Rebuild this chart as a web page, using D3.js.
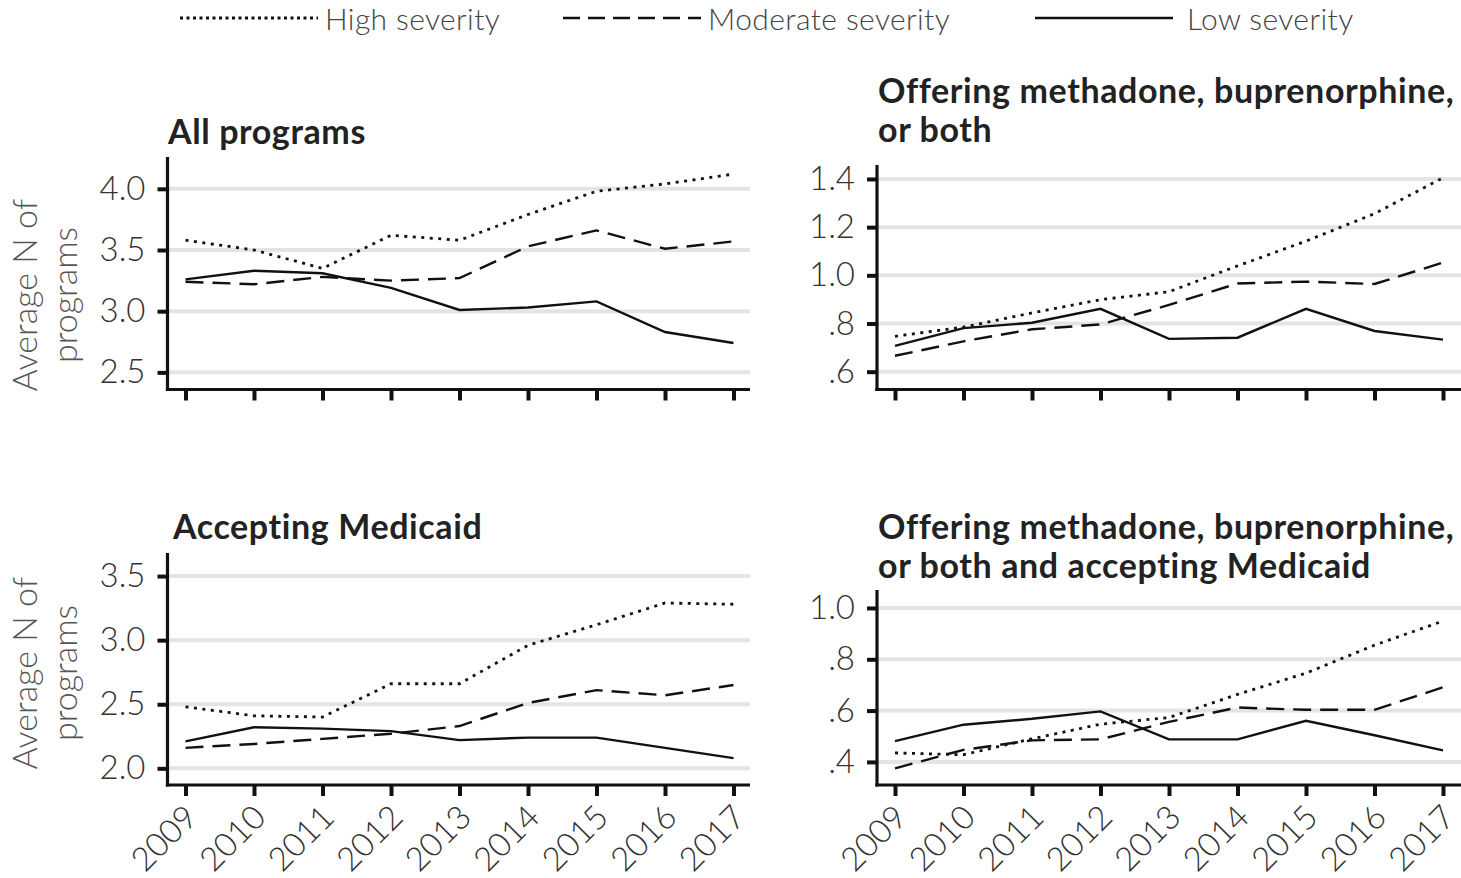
<!DOCTYPE html>
<html><head><meta charset="utf-8">
<script src="https://cdn.jsdelivr.net/npm/d3@7"></script>
<style>
html,body{margin:0;padding:0;background:#fff;}
svg{display:block;font-family:Lato,"Open Sans",sans-serif;}
</style></head>
<body>
<svg id="chart" width="1461" height="878"></svg>
<script>
const years = [2009,2010,2011,2012,2013,2014,2015,2016,2017];
const seriesNames = ["High severity","Moderate severity","Low severity"];

const allHigh = [3.58,3.50,3.35,3.62,3.58,3.79,3.98,4.04,4.12];
const allMod  = [3.24,3.22,3.28,3.25,3.27,3.53,3.66,3.51,3.57];
const allLow  = [3.26,3.33,3.31,3.19,3.01,3.03,3.08,2.83,2.74];

const mobHigh = [0.747,0.785,0.844,0.899,0.932,1.039,1.142,1.256,1.405];
const mobMod  = [0.666,0.726,0.776,0.796,0.877,0.966,0.974,0.964,1.053];
const mobLow  = [0.707,0.781,0.803,0.861,0.736,0.741,0.861,0.769,0.733];

const medHigh = [2.48,2.41,2.40,2.66,2.66,2.96,3.12,3.29,3.28];
const medMod  = [2.16,2.19,2.23,2.27,2.33,2.51,2.61,2.57,2.65];
const medLow  = [2.21,2.32,2.31,2.29,2.22,2.24,2.24,2.16,2.08];

const bothHigh = [0.435,0.428,0.490,0.547,0.573,0.663,0.746,0.855,0.949];
const bothMod  = [0.375,0.447,0.484,0.488,0.556,0.612,0.603,0.603,0.691];
const bothLow  = [0.481,0.545,0.568,0.597,0.488,0.488,0.560,0.504,0.445];

const titles = [
  ["All programs"],
  ["Offering methadone, buprenorphine,","or both"],
  ["Accepting Medicaid"],
  ["Offering methadone, buprenorphine,","or both and accepting Medicaid"]
];
const yTicksAll  = [2.5,3.0,3.5,4.0];
const yTicksMob  = [0.6,0.8,1.0,1.2,1.4];
const yTicksMed  = [2.0,2.5,3.0,3.5];
const yTicksBoth = [0.4,0.6,0.8,1.0];
const yLabelLines = ["Average N of","programs"];

const dashes = ["3,5.5","18,9",null];

const svg = d3.select("#chart");
const fmt = d => { const s = d3.format(".1f")(d); return d < 1 ? s.replace(/^0/,"") : s; };
const FONT = "Lato, sans-serif";

const panels = [
  {series:[allHigh,allMod,allLow], ticks:yTicksAll, dom:[2.36,4.26], left:167.5,right:750,top:157,bottom:389.5, title:titles[0], tx:168, ty:144, xlabels:false, ylabY:295},
  {series:[mobHigh,mobMod,mobLow], ticks:yTicksMob, dom:[0.526,1.458], left:877,right:1461,top:165,bottom:389.5, title:titles[1], tx:878, ty:103, xlabels:false, ylabY:null},
  {series:[medHigh,medMod,medLow], ticks:yTicksMed, dom:[1.87,3.68], left:167.5,right:750,top:553,bottom:785, title:titles[2], tx:173, ty:539, xlabels:true, ylabY:673},
  {series:[bothHigh,bothMod,bothLow], ticks:yTicksBoth, dom:[0.31,1.07], left:877,right:1461,top:590,bottom:785, title:titles[3], tx:878, ty:539, xlabels:true, ylabY:null}
];

panels.forEach(p => {
  const g = svg.append("g");
  const x = d3.scaleLinear().domain([2009,2017]).range([p.left+18, p.left+566]);
  const y = d3.scaleLinear().domain(p.dom).range([p.bottom, p.top]);

  // gridlines
  g.selectAll(".grid").data(p.ticks).join("line")
    .attr("x1", p.left).attr("x2", p.right)
    .attr("y1", d => y(d)).attr("y2", d => y(d))
    .attr("stroke", "#e4e4e4").attr("stroke-width", 4);

  // y axis
  const ya = g.append("g").attr("transform", `translate(${p.left},0)`)
    .call(d3.axisLeft(y).tickValues(p.ticks).tickFormat(fmt).tickSize(10).tickPadding(12));
  ya.select(".domain").remove();
  ya.selectAll(".tick line").attr("stroke", "#111").attr("stroke-width", 4);
  ya.selectAll(".tick text").attr("fill", "#333").style("font-size", "33px").style("font-weight", 300)
    .style("font-family", FONT);
  g.append("line").attr("x1", p.left).attr("x2", p.left).attr("y1", p.top).attr("y2", p.bottom + 1.5)
    .attr("stroke", "#111").attr("stroke-width", 3.2);

  // x axis
  const xa = g.append("g").attr("transform", `translate(0,${p.bottom})`)
    .call(d3.axisBottom(x).tickValues(years).tickFormat(d3.format("d")).tickSize(11).tickPadding(4));
  xa.select(".domain").remove();
  xa.selectAll(".tick line").attr("stroke", "#111").attr("stroke-width", 4);
  if (p.xlabels) {
    xa.selectAll(".tick text")
      .attr("fill", "#333").style("font-size", "33px").style("font-weight", 300)
      .style("font-family", FONT)
      .attr("text-anchor", "end")
      .attr("dy", null)
      .attr("transform", "translate(4,25) rotate(-45)")
      .attr("y", 0).attr("x", 0).attr("dominant-baseline", "central");
  } else {
    xa.selectAll(".tick text").remove();
  }
  g.append("line").attr("x1", p.left - 1.6).attr("x2", p.right).attr("y1", p.bottom).attr("y2", p.bottom)
    .attr("stroke", "#111").attr("stroke-width", 3);

  // lines
  const line = d3.line().x((d,i) => x(years[i])).y(d => y(d));
  p.series.forEach((s, k) => {
    g.append("path").datum(s).attr("d", line)
      .attr("fill", "none").attr("stroke", "#111")
      .attr("stroke-width", k === 0 ? 2.8 : 2.4)
      .attr("stroke-dasharray", dashes[k]);
  });

  // title
  p.title.forEach((t, i) => {
    g.append("text").attr("x", p.tx).attr("y", p.ty + i * 39)
      .text(t).attr("fill", "#222")
      .style("font-size", "34px").style("font-weight", 700).style("font-family", FONT)
      .style("letter-spacing", "0.6px");
  });

  // y label
  if (p.ylabY !== null) {
    yLabelLines.forEach((t, i) => {
      g.append("text").attr("transform", `translate(${37 + i * 40},${p.ylabY}) rotate(-90)`)
        .attr("text-anchor", "middle").text(t).attr("fill", "#555")
        .style("font-size", "34px").style("font-weight", 300).style("font-family", FONT);
    });
  }
});

// legend
const legendX = [180, 563, 1035];
const lg = svg.append("g");
seriesNames.forEach((n, k) => {
  lg.append("line").attr("x1", legendX[k]).attr("x2", legendX[k] + 138).attr("y1", 18).attr("y2", 18)
    .attr("stroke", "#111").attr("stroke-width", k === 0 ? 2.8 : 2.6)
    .attr("stroke-dasharray", k === 0 ? "3,3.5" : k === 1 ? "17,8" : null);
  lg.append("text").attr("x", legendX[k] + (k === 2 ? 152 : 145)).attr("y", 30).text(n)
    .attr("fill", "#444").style("font-size", "30px").style("font-weight", 300).style("font-family", FONT)
    .style("letter-spacing", "0.4px");
});
</script>
</body></html>
